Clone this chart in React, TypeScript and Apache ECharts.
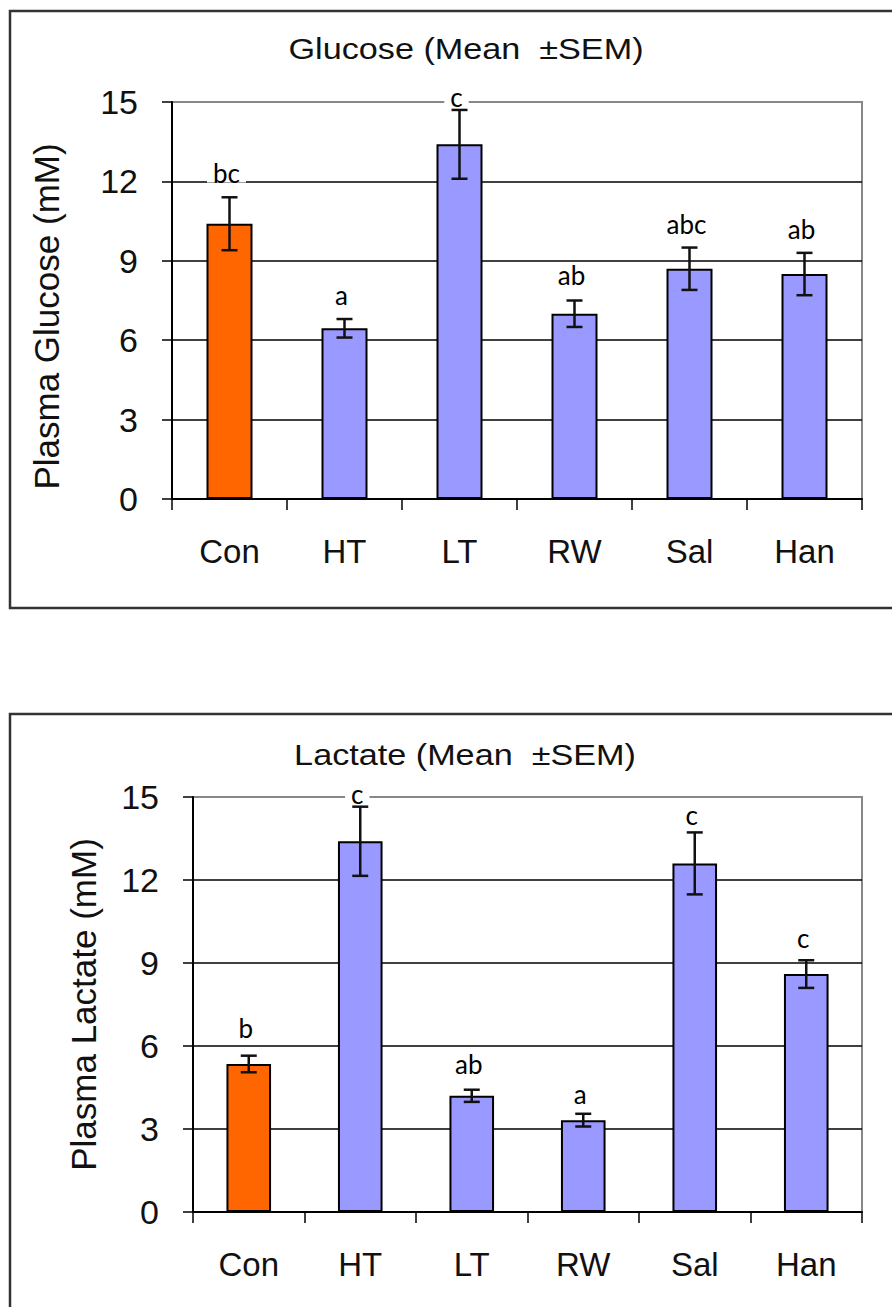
import React, { useEffect, useRef } from "react";
import * as echarts from "echarts";

const categories = ["Con", "HT", "LT", "RW", "Sal", "Han"];
const yTickMin = 0;
const yTickMax = 15;
const yTickStep = 3;

const glucoseTitle = "Glucose (Mean  \u00B1SEM)";
const glucoseAxisName = "Plasma Glucose (mM)";
const glucoseMean = [10.4, 6.45, 13.4, 7.0, 8.7, 8.5];
const glucoseSem = [1.0, 0.35, 1.3, 0.5, 0.8, 0.8];
const glucoseLetters = ["bc", "a", "c", "ab", "abc", "ab"];
const glucoseLetterY = [12.3, 7.7, 15.2, 8.45, 10.4, 10.2];

const lactateTitle = "Lactate (Mean  \u00B1SEM)";
const lactateAxisName = "Plasma Lactate (mM)";
const lactateMean = [5.35, 13.4, 4.2, 3.32, 12.6, 8.6];
const lactateSem = [0.3, 1.25, 0.22, 0.23, 1.12, 0.5];
const lactateLetters = ["b", "c", "ab", "a", "c", "c"];
const lactateLetterY = [6.65, 15.1, 5.35, 4.25, 14.35, 9.9];

const ARIAL = "'Liberation Sans', Arial, sans-serif";
const LETTER_FONT = "Lato, 'Open Sans', sans-serif";
const ORANGE = "#FF6600";
const LAVENDER = "#9999FF";

function makeXAxis(gridIndex: number) {
  return {
    type: "category",
    gridIndex,
    data: categories,
    boundaryGap: true,
    axisLine: { show: true, lineStyle: { color: "#000", width: 2 } },
    axisTick: { show: true, length: 11, alignWithLabel: false, lineStyle: { color: "#000", width: 1.5 } },
    axisLabel: { fontSize: 33, fontFamily: ARIAL, color: "#111", margin: 36 },
    splitLine: { show: false },
  };
}

function makeYAxis(gridIndex: number, name: string, nameGap: number, shift: number) {
  return {
    type: "value",
    gridIndex,
    min: yTickMin,
    max: yTickMax,
    interval: yTickStep,
    name,
    nameLocation: "middle",
    nameRotate: 90,
    nameGap,
    nameTextStyle: {
      fontSize: 35,
      fontFamily: ARIAL,
      color: "#111",
      padding: shift > 0 ? [0, shift * 2, 0, 0] : [0, 0, 0, 0],
    },
    axisLine: { show: true, lineStyle: { color: "#000", width: 2 } },
    axisTick: { show: true, length: 10, inside: false, lineStyle: { color: "#000", width: 1.5 } },
    axisLabel: { fontSize: 34, fontFamily: ARIAL, color: "#111", margin: 34 },
    splitLine: {
      show: true,
      lineStyle: { color: ["#000", "#000", "#000", "#000", "#000", "#888"], width: 1.6 },
    },
  };
}

function barSeries(idx: number, means: number[]) {
  return {
    type: "bar",
    xAxisIndex: idx,
    yAxisIndex: idx,
    barWidth: "40%",
    z: 2,
    data: means.map((v, i) => ({
      value: v,
      itemStyle: { color: i === 0 ? ORANGE : LAVENDER, borderColor: "#000", borderWidth: 2 },
    })),
  };
}

function errorSeries(idx: number, means: number[], sems: number[]) {
  return {
    type: "custom",
    xAxisIndex: idx,
    yAxisIndex: idx,
    z: 5,
    data: means.map((m, i) => [i, m - sems[i], m + sems[i]]),
    renderItem: (params: any, api: any) => {
      const x = api.value(0);
      const lo = api.coord([x, api.value(1)]);
      const hi = api.coord([x, api.value(2)]);
      const hw = 8;
      const st = { stroke: "#111", lineWidth: 2.5 };
      return {
        type: "group",
        children: [
          { type: "line", shape: { x1: hi[0], y1: hi[1], x2: lo[0], y2: lo[1] }, style: st },
          { type: "line", shape: { x1: hi[0] - hw, y1: hi[1], x2: hi[0] + hw, y2: hi[1] }, style: st },
          { type: "line", shape: { x1: lo[0] - hw, y1: lo[1], x2: lo[0] + hw, y2: lo[1] }, style: st },
        ],
      };
    },
  };
}

function letterSeries(idx: number, letters: string[], ys: number[]) {
  return {
    type: "custom",
    xAxisIndex: idx,
    yAxisIndex: idx,
    z: 4,
    data: ys.map((y, i) => [i, y]),
    renderItem: (params: any, api: any) => {
      const p = api.coord([api.value(0), api.value(1)]);
      return {
        type: "text",
        x: p[0] - 3,
        y: p[1],
        style: {
          text: letters[params.dataIndex],
          fontSize: 26,
          fontFamily: LETTER_FONT,
          fill: "#000",
          align: "center",
          verticalAlign: "middle",
          backgroundColor: "#fff",
          padding: [0, 6],
          lineHeight: 18,
        },
      };
    },
  };
}

export default function App() {
  const ref = useRef<HTMLDivElement>(null);
  useEffect(() => {
    if (!ref.current) return;
    const chart = echarts.init(ref.current, null, { renderer: "svg" });
    chart.setOption({
      animation: false,
      backgroundColor: "#fff",
      grid: [
        { left: 172, top: 102, right: 30, height: 397, show: true, borderColor: "#888", borderWidth: 2, backgroundColor: "transparent" },
        { left: 193, top: 797, right: 30, height: 415, show: true, borderColor: "#888", borderWidth: 2, backgroundColor: "transparent" },
      ],
      xAxis: [makeXAxis(0), makeXAxis(1)],
      yAxis: [makeYAxis(0, glucoseAxisName, 108, 16), makeYAxis(1, lactateAxisName, 92, 0)],
      series: [
        barSeries(0, glucoseMean),
        letterSeries(0, glucoseLetters, glucoseLetterY),
        errorSeries(0, glucoseMean, glucoseSem),
        barSeries(1, lactateMean),
        letterSeries(1, lactateLetters, lactateLetterY),
        errorSeries(1, lactateMean, lactateSem),
      ],
      graphic: [
        { type: "rect", shape: { x: 10, y: 11, width: 900, height: 597 }, style: { fill: "none", stroke: "#333", lineWidth: 2.5 } },
        { type: "rect", shape: { x: 10, y: 714, width: 900, height: 700 }, style: { fill: "none", stroke: "#333", lineWidth: 2.5 } },
        { type: "text", x: 466, y: 49, scaleX: 1.14, style: { text: glucoseTitle, fontSize: 30, fontFamily: ARIAL, fill: "#111", align: "center", verticalAlign: "middle" } },
        { type: "text", x: 465, y: 755, scaleX: 1.14, style: { text: lactateTitle, fontSize: 30, fontFamily: ARIAL, fill: "#111", align: "center", verticalAlign: "middle" } },
      ],
    });
    return () => chart.dispose();
  }, []);
  return (
    <div
      ref={ref}
      style={{ position: "absolute", left: 0, top: 0, width: 892, height: 1307, background: "#fff" }}
    />
  );
}
